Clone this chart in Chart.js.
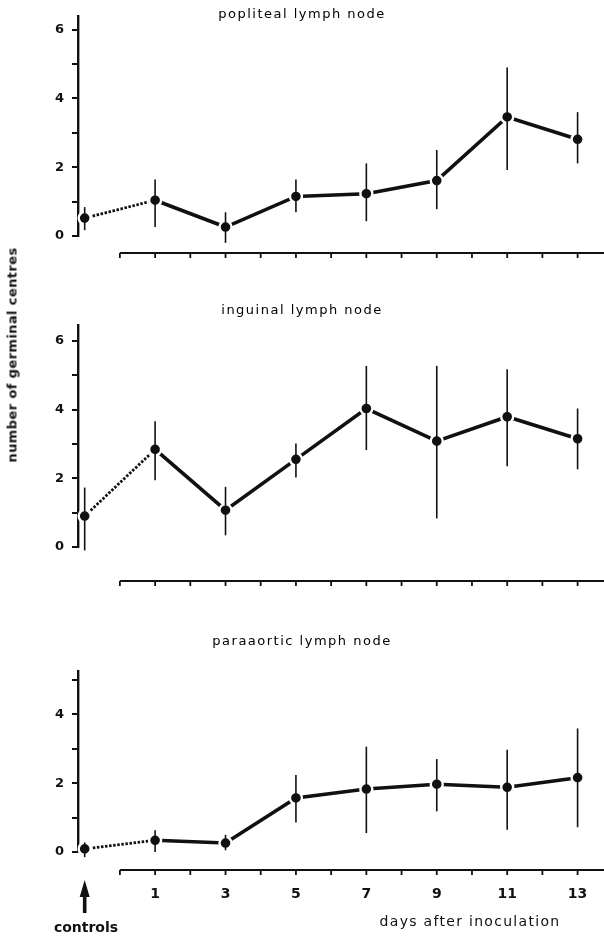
<!DOCTYPE html>
<html>
<head>
<meta charset="utf-8">
<script src="https://cdn.jsdelivr.net/npm/chart.js@4.4.1/dist/chart.umd.min.js"></script>
<style>
  body { margin: 0; background: #fff; }
  #wrap { position: relative; width: 604px; height: 938px; overflow: hidden; }
  canvas { position: absolute; left: 0; }
  .lbl { position: absolute; font-family: "DejaVu Sans", sans-serif; color: #111; white-space: nowrap; line-height: 1; }
  .title { left: 0; width: 604px; text-align: center; font-size: 13px; letter-spacing: 1.5px; color: #000; }
</style>
</head>
<body>
<div id="wrap">
  <canvas id="popliteal" width="604" height="290" style="top:0"></canvas>
  <canvas id="inguinal" width="604" height="320" style="top:290px"></canvas>
  <canvas id="paraaortic" width="604" height="328" style="top:610px"></canvas>

  <div class="lbl title" style="top:7px">popliteal lymph node</div>
  <div class="lbl title" style="top:303px">inguinal lymph node</div>
  <div class="lbl title" style="top:634px">paraaortic lymph node</div>
  <div class="lbl" style="left:12px;top:355px;font-size:13px;font-weight:bold;letter-spacing:0.4px;transform:translate(-50%,-50%) rotate(-90deg)">number of germinal centres</div>
  <div class="lbl" style="left:470px;top:914px;font-size:14px;letter-spacing:1.3px;transform:translateX(-50%)">days after inoculation</div>
  <div class="lbl" style="left:86px;top:920px;font-size:14px;font-weight:bold;transform:translateX(-50%)">controls</div>
</div>
<script>
// x positions: controls sit at -1, then days after inoculation
const days = [-1, 1, 3, 5, 7, 9, 11, 13];
const dayLabels = [1, 3, 5, 7, 9, 11, 13];
const axisDays = [0, 1, 2, 3, 4, 5, 6, 7, 8, 9, 10, 11, 12, 13];
const countTicks = [0, 1, 2, 3, 4, 5, 6];

// mean number of germinal centres, with range bars
const popliteal = [0.52, 1.04, 0.26, 1.15, 1.23, 1.61, 3.46, 2.81];
const poplLow = [0.17, 0.26, -0.2, 0.69, 0.43, 0.78, 1.92, 2.11];
const poplHigh = [0.84, 1.64, 0.69, 1.64, 2.11, 2.5, 4.9, 3.6];

const inguinal = [0.9, 2.84, 1.07, 2.55, 4.03, 3.08, 3.79, 3.15];
const ingLow = [-0.1, 1.94, 0.34, 2.02, 2.82, 0.83, 2.35, 2.26];
const ingHigh = [1.73, 3.66, 1.75, 3.01, 5.27, 5.27, 5.17, 4.03];

const paraaortic = [0.09, 0.34, 0.26, 1.57, 1.83, 1.97, 1.88, 2.16];
const paraLow = [-0.15, 0.0, 0.05, 0.86, 0.55, 1.18, 0.65, 0.72];
const paraHigh = [0.28, 0.63, 0.5, 2.24, 3.06, 2.7, 2.97, 3.59];

const tickFont = { family: "DejaVu Sans", size: 13, weight: "bold" };

// vertical bars + separate day axis + controls arrow
const extras = {
  id: "extras",
  afterDatasetsDraw(chart, args, opts) {
    const ctx = chart.ctx;
    const xs = chart.scales.x, ys = chart.scales.y;
    const area = chart.chartArea;
    ctx.save();
    ctx.strokeStyle = "#111";
    ctx.fillStyle = "#111";

    // range bars
    ctx.lineWidth = 1.6;
    opts.low.forEach((lo, i) => {
      const x = xs.getPixelForValue(days[i]);
      ctx.beginPath();
      ctx.moveTo(x, ys.getPixelForValue(opts.high[i]));
      ctx.lineTo(x, ys.getPixelForValue(lo));
      ctx.stroke();
    });

    // day axis, detached below the plot
    const yAx = area.bottom + opts.axisGap;
    ctx.lineWidth = 2.2;
    ctx.beginPath();
    ctx.moveTo(xs.getPixelForValue(axisDays[0]), yAx);
    ctx.lineTo(area.right, yAx);
    ctx.stroke();
    ctx.lineWidth = 1.8;
    axisDays.forEach(d => {
      const x = xs.getPixelForValue(d);
      ctx.beginPath();
      ctx.moveTo(x, yAx);
      ctx.lineTo(x, yAx + 5);
      ctx.stroke();
    });

    if (opts.arrow) {
      const x = xs.getPixelForValue(days[0]);
      const tip = area.bottom + 28, base = area.bottom + 61;
      ctx.beginPath();
      ctx.moveTo(x, tip);
      ctx.lineTo(x + 5, tip + 17);
      ctx.lineTo(x - 5, tip + 17);
      ctx.closePath();
      ctx.fill();
      ctx.fillRect(x - 1.8, tip + 12, 3.6, base - tip - 12);
    }
    ctx.restore();
  }
};

function makePanel(id, values, low, high, opts) {
  return new Chart(document.getElementById(id), {
    type: "line",
    data: {
      datasets: [{
        data: days.map((d, i) => ({ x: d, y: values[i] })),
        borderColor: "#111",
        borderWidth: 3.6,
        borderCapStyle: "butt",
        pointRadius: 6,
        pointBackgroundColor: "#111",
        pointBorderColor: "#fff",
        pointBorderWidth: 2.4,
        clip: false,
        segment: {
          borderDash: c => (c.p0DataIndex === 0 ? [2.5, 1.6] : undefined),
          borderWidth: c => (c.p0DataIndex === 0 ? 2.8 : undefined)
        }
      }]
    },
    options: {
      responsive: false,
      devicePixelRatio: 1,
      animation: false,
      layout: { autoPadding: false, padding: { top: opts.top, bottom: opts.bottom - 50, left: 0, right: 0 } },
      plugins: {
        legend: { display: false },
        tooltip: { enabled: false },
        extras: { low, high, axisGap: opts.axisGap, arrow: !!opts.arrow }
      },
      scales: {
        x: {
          type: "linear",
          min: -1.19,
          max: 13.75,
          grid: { display: false },
          border: { display: false },
          afterBuildTicks: s => { s.ticks = dayLabels.map(v => ({ value: v })); },
          afterFit: s => { s.height = 50; s.paddingLeft = 0; s.paddingRight = 0; },
          ticks: {
            display: !!opts.dayLabels,
            padding: 26,
            color: "#111",
            font: { family: "DejaVu Sans", size: 14, weight: "bold" },
            maxRotation: 0,
            autoSkip: false
          }
        },
        y: {
          min: 0,
          max: opts.yMax,
          afterBuildTicks: s => { s.ticks = countTicks.filter(v => v <= opts.yMax).map(v => ({ value: v })); },
          afterFit: s => { s.width = 78; },
          grid: { drawOnChartArea: false, color: "#111", lineWidth: 2, tickLength: 6 },
          border: { color: "#111", width: 2.4 },
          ticks: {
            color: "#111",
            padding: 8,
            font: tickFont,
            callback: v => (v % 2 === 0 ? String(v) : "")
          }
        }
      }
    },
    plugins: [extras]
  });
}

makePanel("popliteal", popliteal, poplLow, poplHigh, { top: 15, bottom: 54, yMax: 6.4, axisGap: 17 });
makePanel("inguinal", inguinal, ingLow, ingHigh, { top: 35, bottom: 63, yMax: 6.46, axisGap: 34 });
makePanel("paraaortic", paraaortic, paraLow, paraHigh, { top: 61, bottom: 86, yMax: 5.26, axisGap: 18, dayLabels: true, arrow: true });
</script>
</body>
</html>
